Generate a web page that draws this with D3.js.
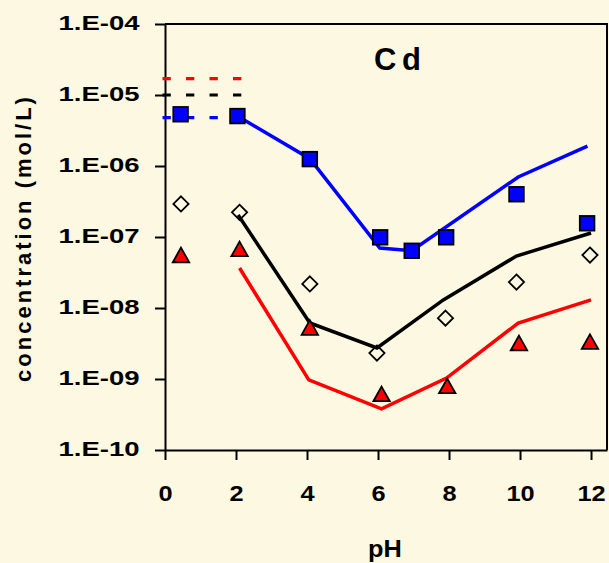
<!DOCTYPE html>
<html>
<head>
<meta charset="utf-8">
<script src="https://cdn.jsdelivr.net/npm/d3@7"></script>
<style>
  html, body { margin: 0; padding: 0; background: #fcf8e1; }
  svg { display: block; }
  text { font-family: "Liberation Sans", Arial, Helvetica, sans-serif; font-weight: bold; fill: #000; }
</style>
</head>
<body>
<svg id="chart" width="609" height="563"></svg>
<script>
// ---- axis ticks ----
const yTickValues = [1e-4, 1e-5, 1e-6, 1e-7, 1e-8, 1e-9, 1e-10];
const yTickLabels = ["1.E-04", "1.E-05", "1.E-06", "1.E-07", "1.E-08", "1.E-09", "1.E-10"];
const xTickValues = [0, 2, 4, 6, 8, 10, 12];
const xTickLabels = ["0", "2", "4", "6", "8", "10", "12"];

// ---- measured concentrations (markers) ----
const squarePH   = [0.44, 2.04, 4.08, 6.06, 6.95, 7.92, 9.90, 11.89];
const squareConc = [5.35e-6, 5.05e-6, 1.25e-6, 9.9e-8, 6.4e-8, 9.9e-8, 4.0e-7, 1.56e-7];

const diamondPH   = [0.45, 2.10, 4.08, 5.97, 7.90, 9.90, 11.97];
const diamondConc = [2.92e-7, 2.23e-7, 2.18e-8, 2.32e-9, 7.2e-9, 2.32e-8, 5.57e-8];

const trianglePH   = [0.45, 2.10, 4.08, 6.10, 7.95, 9.97, 11.97];
const triangleConc = [5.57e-8, 6.78e-8, 5.3e-9, 6.15e-10, 7.97e-10, 3.21e-9, 3.35e-9];

// ---- modelled concentrations (lines) ----
const blueLinePH   = [2.04, 4.08, 6.05, 6.95, 9.95, 11.90];
const blueLineConc = [5.05e-6, 1.27e-6, 7.0e-8, 6.4e-8, 7.0e-7, 1.91e-6];

const blackLinePH   = [2.06, 4.08, 5.97, 7.84, 9.90, 12.00];
const blackLineConc = [2.04e-7, 6.15e-9, 2.74e-9, 1.3e-8, 5.4e-8, 1.14e-7];

const redLinePH   = [2.10, 4.05, 6.10, 7.93, 9.95, 12.00];
const redLineConc = [3.66e-8, 9.7e-10, 3.8e-10, 1.03e-9, 6.15e-9, 1.3e-8];

// ---- total-content reference levels (dashed) ----
const levelConc   = [1.7e-5, 1.0e-5, 4.79e-6];
const levelColors = ["#ff0000", "#000000", "#0000ff"];
const levelPH     = [-0.07, 2.15];

// ---- layout ----
const svg = d3.select("#chart");
const plotLeft = 165, plotRight = 607, plotTop = 24, plotBottom = 450;

const x = d3.scaleLinear().domain([0, 12.45]).range([plotLeft, plotRight]);
const y = d3.scaleLog().domain([1e-10, 1e-4]).range([plotBottom, plotTop]);

// widen text horizontally by factor k
function widen(sel, k) {
  sel.each(function () {
    const len = this.getComputedTextLength();
    d3.select(this).attr("textLength", len * k).attr("lengthAdjust", "spacingAndGlyphs");
  });
}

// frame: top and right edges
svg.append("path")
  .attr("d", `M${plotLeft},${plotTop}H${plotRight}V${plotBottom}`)
  .attr("fill", "none").attr("stroke", "#000").attr("stroke-width", 2);

// y axis
const yAxis = svg.append("g")
  .attr("transform", `translate(${plotLeft},0)`)
  .call(d3.axisLeft(y)
    .tickValues(yTickValues)
    .tickFormat((d, i) => yTickLabels[i])
    .tickSize(10).tickSizeOuter(0).tickPadding(15.5));
yAxis.select(".domain").attr("stroke-width", 2);
yAxis.selectAll(".tick line").attr("stroke-width", 2);
yAxis.selectAll(".tick text")
  .attr("font-size", 21).attr("dy", 5)
  .call(widen, 1.31);

// x axis
const xAxis = svg.append("g")
  .attr("transform", `translate(0,${plotBottom})`)
  .call(d3.axisBottom(x)
    .tickValues(xTickValues)
    .tickFormat((d, i) => xTickLabels[i])
    .tickSize(10).tickSizeOuter(0).tickPadding(25));
xAxis.select(".domain").attr("stroke-width", 2);
xAxis.selectAll(".tick line").attr("stroke-width", 2);
xAxis.selectAll(".tick text")
  .attr("font-size", 22)
  .call(widen, 1.15);

// axis titles
svg.append("text")
  .attr("x", 385).attr("y", 556.5)
  .attr("text-anchor", "middle").attr("font-size", 23)
  .text("pH")
  .call(widen, 1.1);

svg.append("text")
  .attr("transform", "translate(31,238) rotate(-90)")
  .attr("text-anchor", "middle").attr("font-size", 22)
  .attr("letter-spacing", 3)
  .text("concentration (mol/L)");

// chart title
svg.append("text")
  .attr("x", 374).attr("y", 69.5)
  .attr("font-size", 31).attr("letter-spacing", 5.5)
  .text("Cd");

// dashed reference levels
svg.append("g").selectAll("line")
  .data(levelConc)
  .join("line")
  .attr("x1", x(levelPH[0])).attr("x2", x(levelPH[1]))
  .attr("y1", d => y(d)).attr("y2", d => y(d))
  .attr("stroke", (d, i) => levelColors[i])
  .attr("stroke-width", 3.2)
  .attr("stroke-dasharray", "8.3 15.2");

// model lines
const line = d3.line().x(d => x(d[0])).y(d => y(d[1]));
const modelSeries = [
  { ph: redLinePH, conc: redLineConc, color: "#ff0000" },
  { ph: blackLinePH, conc: blackLineConc, color: "#000000" },
  { ph: blueLinePH, conc: blueLineConc, color: "#0000ff" }
];
svg.append("g").selectAll("path")
  .data(modelSeries)
  .join("path")
  .attr("d", s => line(d3.zip(s.ph, s.conc)))
  .attr("fill", "none")
  .attr("stroke", s => s.color)
  .attr("stroke-width", 3.5)
  .attr("stroke-linejoin", "miter");

// markers
const diamondPath = "M0,-7.6L7.6,0L0,7.6L-7.6,0Z";
const trianglePath = "M0,-7.4L8.2,7.2L-8.2,7.2Z";

svg.append("g").selectAll("path")
  .data(d3.zip(diamondPH, diamondConc))
  .join("path")
  .attr("d", diamondPath)
  .attr("transform", d => `translate(${x(d[0])},${y(d[1])})`)
  .attr("fill", "none")
  .attr("stroke", "#000").attr("stroke-width", 1.8);

svg.append("g").selectAll("path")
  .data(d3.zip(trianglePH, triangleConc))
  .join("path")
  .attr("d", trianglePath)
  .attr("transform", d => `translate(${x(d[0])},${y(d[1])})`)
  .attr("fill", "#ff0000")
  .attr("stroke", "#000").attr("stroke-width", 1.8)
  .attr("stroke-linejoin", "miter");

svg.append("g").selectAll("rect")
  .data(d3.zip(squarePH, squareConc))
  .join("rect")
  .attr("x", d => x(d[0]) - 7.3).attr("y", d => y(d[1]) - 7.3)
  .attr("width", 14.6).attr("height", 14.6)
  .attr("fill", "#0000ff")
  .attr("stroke", "#000").attr("stroke-width", 1.8);
</script>
</body>
</html>
